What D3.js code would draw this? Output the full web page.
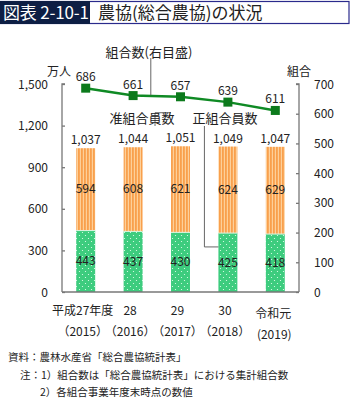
<!DOCTYPE html>
<html>
<head>
<meta charset="utf-8">
<script src="https://cdn.jsdelivr.net/npm/d3@7"></script>
<style>
  html, body { margin: 0; padding: 0; background: #fff; }
  svg { display: block; font-family: "Noto Sans CJK JP", "Noto Sans", sans-serif; }
</style>
</head>
<body>
<svg id="chart" width="350" height="399"></svg>
<script>
// 年度ラベル
const years = ["2015", "2016", "2017", "2018", "2019"];
const yearLabels1 = ["平成27年度", "28", "29", "30", "令和元"];
const yearLabels2 = ["（2015）", "（2016）", "（2017）", "（2018）", "(2019)"];
// 正組合員数・准組合員数（万人）
const regularMembers = [443, 437, 430, 425, 418];
const associateMembers = [594, 608, 621, 624, 629];
const totalMembers = [1037, 1044, 1051, 1049, 1047];
// 組合数（右目盛）
const coopCount = [686, 661, 657, 639, 611];
// 目盛
const leftTicks = [0, 300, 600, 900, 1200, 1500];
const rightTicks = [0, 100, 200, 300, 400, 500, 600, 700];

(function () {
const svg = d3.select("#chart");
const plotL = 62, plotR = 299, plotT = 84, plotB = 292;

const x = d3.scaleBand().domain(years).range([plotL, plotR])
  .paddingInner(0.6).paddingOuter(0.3);
const yL = d3.scaleLinear().domain([0, 1500]).range([plotB, plotT]);
const yR = d3.scaleLinear().domain([0, 700]).range([plotB, plotT]);

// 模様
const defs = svg.append("defs");
const stripe = defs.append("pattern").attr("id", "stripe")
  .attr("patternUnits", "userSpaceOnUse").attr("width", 3).attr("height", 4);
stripe.append("rect").attr("width", 3).attr("height", 4).attr("fill", "#f9a04c");
stripe.append("rect").attr("x", 1.8).attr("width", 1.2).attr("height", 4).attr("fill", "#fdd09a");
const dots = defs.append("pattern").attr("id", "dots")
  .attr("patternUnits", "userSpaceOnUse").attr("width", 6).attr("height", 6);
dots.append("rect").attr("width", 6).attr("height", 6).attr("fill", "#3dcc7e");
dots.append("circle").attr("cx", 1.5).attr("cy", 1.5).attr("r", 0.6).attr("fill", "#e8fff0");
dots.append("circle").attr("cx", 4.5).attr("cy", 4.5).attr("r", 0.6).attr("fill", "#e8fff0");

// タイトル
svg.append("rect").attr("x", 0.5).attr("y", 1.5).attr("width", 348.5).attr("height", 22)
  .attr("fill", "#fff").attr("stroke", "#2a2a8c").attr("stroke-width", 1.2);
svg.append("rect").attr("x", 0).attr("y", 1).attr("width", 90).attr("height", 23)
  .attr("fill", "#0d1e44");
svg.append("text").attr("x", 3).attr("y", 19).attr("fill", "#fff")
  .attr("font-size", 17).attr("textLength", 86).text("図表 2-10-1");
svg.append("text").attr("x", 98).attr("y", 19).attr("fill", "#222")
  .attr("font-size", 17).text("農協(総合農協)の状況");

const ink = "#222";
const axisColor = "#777";

// 棒グラフ（積み上げ）
const g = svg.append("g");
years.forEach((yr, i) => {
  const bx = x(yr), bw = x.bandwidth();
  g.append("rect").attr("x", bx).attr("width", bw)
    .attr("y", yL(regularMembers[i])).attr("height", yL(0) - yL(regularMembers[i]))
    .attr("fill", "url(#dots)");
  g.append("rect").attr("x", bx).attr("width", bw)
    .attr("y", yL(totalMembers[i])).attr("height", yL(regularMembers[i]) - yL(totalMembers[i]))
    .attr("fill", "url(#stripe)");
  g.append("line").attr("x1", bx).attr("x2", bx + bw)
    .attr("y1", yL(regularMembers[i])).attr("y2", yL(regularMembers[i]))
    .attr("stroke", "#d8f5e0").attr("stroke-width", 1);
  const cx = bx + bw / 2;
  g.append("text").attr("x", cx).attr("y", yL(regularMembers[i] / 2) + 4)
    .attr("text-anchor", "middle").attr("font-size", 12).attr("fill", ink)
    .text(regularMembers[i]);
  g.append("text").attr("x", cx).attr("y", yL(regularMembers[i] + associateMembers[i] / 2) + 4)
    .attr("text-anchor", "middle").attr("font-size", 12).attr("fill", ink)
    .text(associateMembers[i]);
  g.append("text").attr("x", cx).attr("y", yL(totalMembers[i]) - 4)
    .attr("text-anchor", "middle").attr("font-size", 12).attr("fill", ink)
    .text(d3.format(",")(totalMembers[i]));
});

// 軸
const axL = svg.append("g").attr("transform", `translate(${plotL},0)`)
  .call(d3.axisRight(yL).tickValues(leftTicks).tickSize(3).tickFormat(""));
const axR = svg.append("g").attr("transform", `translate(${plotR},0)`)
  .call(d3.axisLeft(yR).tickValues(rightTicks).tickSize(3).tickFormat(""));
[axL, axR].forEach(a => {
  a.selectAll("path, line").attr("stroke", axisColor).attr("stroke-width", 1.3);
});
axL.select(".domain").attr("d", `M3,${plotT}H0V${plotB}`);
axR.select(".domain").attr("d", `M-3,${plotT}H0V${plotB}`);
svg.append("line").attr("x1", plotL).attr("x2", plotR).attr("y1", plotB).attr("y2", plotB)
  .attr("stroke", axisColor).attr("stroke-width", 1.3);

leftTicks.forEach(t => {
  svg.append("text").attr("x", 48).attr("y", yL(t) + 4.5).attr("text-anchor", "end")
    .attr("font-size", 12).attr("fill", ink).text(d3.format(",")(t));
});
rightTicks.forEach(t => {
  svg.append("text").attr("x", 314).attr("y", yR(t) + 4.5)
    .attr("font-size", 12).attr("fill", ink).text(t);
});
svg.append("text").attr("x", 59).attr("y", 76).attr("text-anchor", "middle")
  .attr("font-size", 12).attr("fill", ink).text("万人");
svg.append("text").attr("x", 299).attr("y", 76).attr("text-anchor", "middle")
  .attr("font-size", 12).attr("fill", ink).text("組合");

// 年度ラベル
years.forEach((yr, i) => {
  const cx = x(yr) + x.bandwidth() / 2;
  const last = i === years.length - 1;
  svg.append("text").attr("x", last ? cx - 2 : cx - 3).attr("y", last ? 318 : 315)
    .attr("text-anchor", "middle").attr("font-size", 12).attr("fill", ink)
    .text(yearLabels1[i]);
  svg.append("text").attr("x", last ? cx - 1 : cx - 3).attr("y", last ? 339 : 336)
    .attr("text-anchor", "middle").attr("font-size", 12).attr("fill", ink)
    .text(yearLabels2[i]);
});

// 折れ線（組合数）
const lineGen = d3.line()
  .x((d, i) => x(years[i]) + x.bandwidth() / 2)
  .y(d => yR(d));
svg.append("path").datum(coopCount).attr("d", lineGen)
  .attr("fill", "none").attr("stroke", "#0f8a24").attr("stroke-width", 2.5);
coopCount.forEach((v, i) => {
  const cx = x(years[i]) + x.bandwidth() / 2;
  svg.append("rect").attr("x", cx - 4.5).attr("y", yR(v) - 4.5)
    .attr("width", 9).attr("height", 9).attr("fill", "#0c7a1c");
  svg.append("text").attr("x", cx).attr("y", yR(v) - 7)
    .attr("text-anchor", "middle").attr("font-size", 12).attr("fill", ink).text(v);
});

// 引き出し線と注記
const lead = "#555";
const midX = (a, b) => (x(years[a]) + x.bandwidth() / 2 + x(years[b]) + x.bandwidth() / 2) / 2;
const lineX = midX(1, 2) - 6;
svg.append("line").attr("x1", lineX).attr("x2", lineX).attr("y1", 58)
  .attr("y2", yR((coopCount[1] + coopCount[2]) / 2) - 1)
  .attr("stroke", lead).attr("stroke-width", 0.9);
svg.append("text").attr("x", 149).attr("y", 57).attr("text-anchor", "middle")
  .attr("font-size", 13).attr("fill", ink).text("組合数(右目盛)");

const assocX = x(years[2]) - 16;
svg.append("polyline")
  .attr("points", `${assocX},126 ${assocX},${yL(1300) + 1} ${x(years[2])},${yL(1300) + 1}`)
  .attr("fill", "none").attr("stroke", lead).attr("stroke-width", 0.9);
svg.append("text").attr("x", 142).attr("y", 123).attr("text-anchor", "middle")
  .attr("font-size", 13).attr("fill", ink).text("准組合員数");

const regX = x(years[3]) - 14;
svg.append("polyline")
  .attr("points", `${regX},126 ${regX},${yL(325)} ${x(years[3])},${yL(325)}`)
  .attr("fill", "none").attr("stroke", lead).attr("stroke-width", 0.9);
svg.append("text").attr("x", 225).attr("y", 123).attr("text-anchor", "middle")
  .attr("font-size", 13).attr("fill", ink).text("正組合員数");

// 出典・注
const notes = [
  { x: 8, y: 361, t: "資料：農林水産省「総合農協統計表」" },
  { x: 20, y: 379, t: "注：1）組合数は「総合農協統計表」における集計組合数" },
  { x: 40, y: 396, t: "2）各組合事業年度末時点の数値" }
];
notes.forEach(n => {
  svg.append("text").attr("x", n.x).attr("y", n.y).attr("font-size", 10.5)
    .attr("fill", ink).text(n.t);
});
})();
</script>
</body>
</html>
